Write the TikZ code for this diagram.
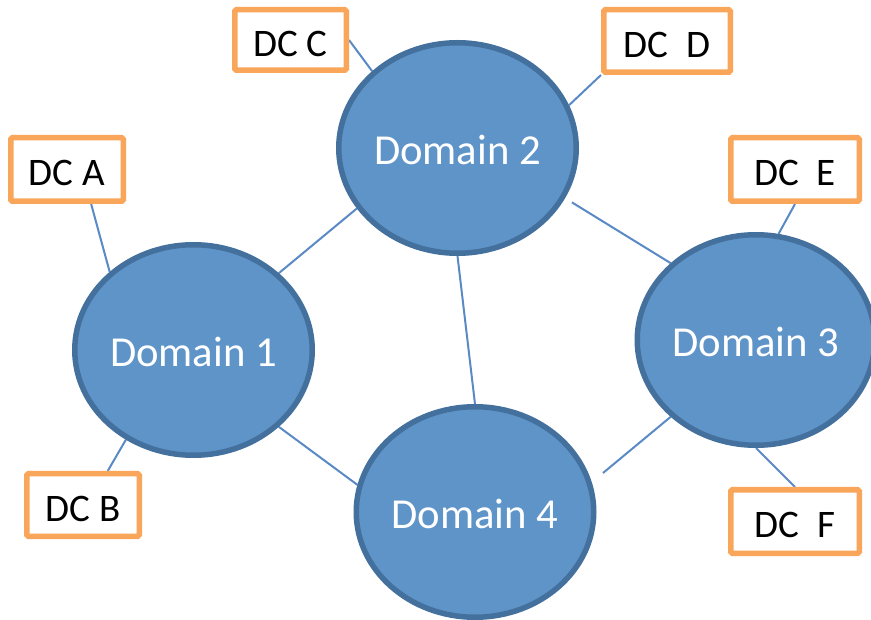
\documentclass[tikz,border=0pt]{standalone}
\usepackage{fontspec}
\setmainfont{Carlito}
\usetikzlibrary{shapes.geometric,backgrounds}
\definecolor{domfill}{RGB}{95,148,201}
\definecolor{domline}{RGB}{68,112,158}
\definecolor{dcorange}{HTML}{F9A55A}
\definecolor{linkblue}{HTML}{5A8AC6}
\tikzset{
  dom/.style={ellipse, draw=domline, fill=domfill, line width=5.5pt,
    minimum width=237.5pt, minimum height=210.5pt, inner sep=0pt, text=white,
    font=\fontsize{42.7}{44}\selectfont, text height=34pt, text depth=0pt},
  dcbox/.style={rectangle, draw=dcorange, fill=white, line width=5.5pt,
    rounded corners=1.5pt, inner sep=0pt, text=black,
    font=\fontsize{39}{40}\selectfont, text height=32.6pt, text depth=0pt},
  link/.style={draw=linkblue, line width=2pt}
}
\begin{document}
\begin{tikzpicture}[x=1pt,y=-1pt]
\useasboundingbox (0,0) rectangle (871,620);
% domains
\node[dom] (d1) at (193.5,350) {Domain 1};
\node[dom] (d2) at (457.5,148) {Domain 2};
\node[dom] (d3) at (756,340) {Domain 3};
\node[dom] (d4) at (475,512) {Domain 4};
% data centres
\node[dcbox, minimum width=112.5pt, minimum height=63.5pt] (dcA) at (67,169.5) {DC A};
\node[dcbox, minimum width=112.5pt, minimum height=62.5pt] (dcB) at (83,505) {DC B};
\node[dcbox, minimum width=111.5pt, minimum height=60.5pt] (dcC) at (290.5,40) {DC C};
\node[dcbox, minimum width=126.5pt, minimum height=62.5pt] (dcD) at (667,41) {DC~~D};
\node[dcbox, minimum width=128.5pt, minimum height=63.5pt] (dcE) at (795,169.5) {DC~~E};
\node[dcbox, minimum width=128.5pt, minimum height=63.5pt] (dcF) at (795,521.5) {DC~~F};
\coordinate (e34) at (603,473);
\begin{scope}[on background layer]
\fill[white] (0,0) rectangle (871,620);
\draw[link] (dcC.east) -- (d2.138);
\draw[link] (dcD.south west) -- (d2.21);
\draw[link] (dcA.-55.2) -- (d1.137);
\draw[link] (dcB.54.8) -- (d1.-127.5);
\draw[link] (dcE.south) -- (d3.78);
\draw[link] (dcF.north) -- (d3.south);
\draw[link] (d1.42.3) -- (d2.-149.6);
\draw[link] (d1.-42.3) -- (d4.167.7);
\draw[link] (d2.south) -- (d4.north);
\draw[link] (d3.-138.2) -- (e34);
\draw[link, shorten <=8pt] (d2.-25.3) -- (d3.138.2);
\end{scope}
\end{tikzpicture}
\end{document}
